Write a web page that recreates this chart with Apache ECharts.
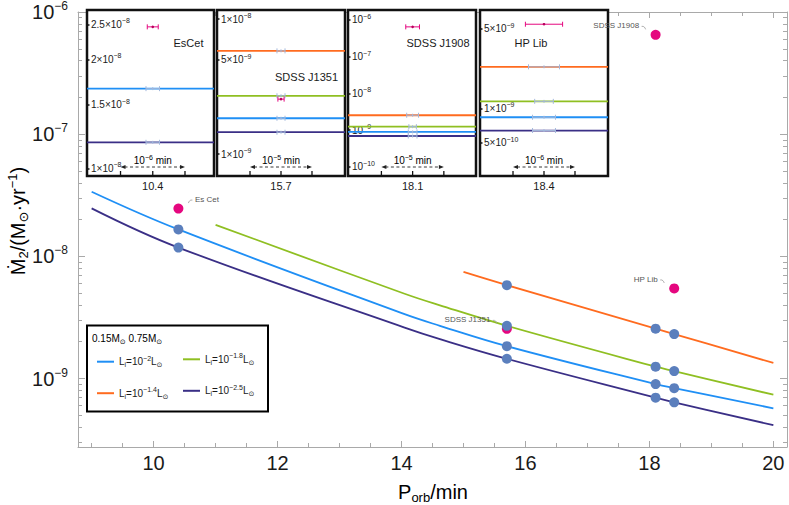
<!DOCTYPE html>
<html><head><meta charset="utf-8">
<script src="https://cdn.jsdelivr.net/npm/echarts@6/dist/echarts.min.js"></script>
<style>html,body{margin:0;padding:0;background:#fff}#c{width:789px;height:505px}</style>
</head><body><div id="c"></div>
<script>
// ---------------- data ----------------
const periodsBlue   = [9.0, 10.4, 14.05, 14.62, 15.7, 18.1, 18.4, 20.0];
const mdotBlue      = [3.38e-8, 1.66e-8, 3.36e-9, 2.70e-9, 1.84e-9, 9.0e-10, 8.34e-10, 5.70e-10];
const periodsOrange = [15.0, 15.7, 18.1, 18.4, 20.0];
const mdotOrange    = [7.45e-9, 5.81e-9, 2.56e-9, 2.31e-9, 1.34e-9];
const periodsGreen  = [11.0, 14.05, 14.62, 15.7, 18.1, 18.4, 20.0];
const mdotGreen     = [1.81e-8, 4.94e-9, 3.97e-9, 2.70e-9, 1.25e-9, 1.15e-9, 7.37e-10];
const periodsPurple = [9.0, 10.4, 14.05, 14.62, 15.7, 18.1, 18.4, 20.0];
const mdotPurple    = [2.47e-8, 1.18e-8, 2.61e-9, 2.10e-9, 1.45e-9, 6.97e-10, 6.38e-10, 4.15e-10];
const lumExponents  = ['−2', '−1.4', '−1.8', '−2.5'];

const obsNames   = ['Es Cet', 'SDSS J1351', 'SDSS J1908', 'HP Lib'];
const obsPeriods = [10.4, 15.7, 18.1, 18.4];
const obsMdot    = [2.46e-8, 2.55e-9, 6.5e-7, 5.46e-9];

const insetNames    = ['EsCet', 'SDSS J1351', 'SDSS J1908', 'HP Lib'];
const insetScaleExp = ['−6', '−5', '−5', '−6'];
const insetXTicks   = [-1, 0, 1];
const insetYTicks   = [[1e-8, 1.5e-8, 2e-8, 2.5e-8], [1e-9, 5e-9, 1e-8], [1e-10, 1e-9, 1e-8, 1e-7, 1e-6], [5e-10, 1e-9, 5e-9]];
const insetYTickLabels = [['1×10^−8', '1.5×10^−8', '2×10^−8', '2.5×10^−8'], ['1×10^−9', '5×10^−9', '1×10^−8'],
                          ['10^−10', '10^−9', '10^−8', '10^−7', '10^−6'], ['5×10^−10', '1×10^−9', '5×10^−9']];
// period error half-widths in inset units, model order: blue, orange, green, purple
const insetModelErr = [[0.21, 0, 0, 0.21], [0.13, 0.13, 0.13, 0.13], [0.14, 0.19, 0.12, 0.14], [0.37, 0.5, 0.3, 0.37]];
const insetObsErr   = [0.17, 0.10, 0.22, 0.6];
const xMajorTicks = [10, 12, 14, 16, 18, 20];
const yMajorExps  = [-9, -8, -7, -6];

// ---------------- layout / style ----------------
const FONT = '"Liberation Sans", Arial, "DejaVu Sans", sans-serif';
const TXT = '#1a1a1a', FRAME = '#a9a9a9', PINK = '#e5077f', DOT = '#5b7fbd', ERRC = '#a3b8dc';
const modelColors = ['#1f8ff5', '#ff6b1f', '#8fbf22', '#3a2f86'];
const modelNames = ['Li2', 'Li14', 'Li18', 'Li25'];
const models = [[periodsBlue, mdotBlue], [periodsOrange, mdotOrange], [periodsGreen, mdotGreen], [periodsPurple, mdotPurple]];
const X_MIN = 8.78, X_MAX = 20.22, Y_MIN = Math.log10(2.75e-10), Y_MAX = -6;
const insetLeft = [87, 217, 348, 480], insetWidth = [127, 128, 128, 128];
const insetXMin = [-2.04, -2.065, -2.07, -2.065], insetXMax = [1.90, 2.065, 2.03, 2.065];
const insetYMin = [-8.0213, -9.163, -10.245, -9.594], insetYMax = [-7.5625, -7.933, -5.728, -8.138];
const insetTitlePos = [[101.5, 33], [89.5, 67], [90, 33], [51, 33]];
const annoSide = [1, -1, -1, -1];

const lg = Math.log10;
function valueAt(per, md, p) { const i = per.findIndex(q => Math.abs(q - p) < 1e-9); return i >= 0 ? md[i] : null; }

const mainRich = {
  b: {fontSize: 20, fontFamily: FONT, color: TXT, lineHeight: 24},
  s: {fontSize: 12, fontFamily: FONT, color: TXT, lineHeight: 24, padding: [0, 0, 12, 0]}
};
const insetRich = {
  ib: {fontSize: 10, fontFamily: FONT, color: TXT, lineHeight: 12},
  is: {fontSize: 7, fontFamily: FONT, color: TXT, lineHeight: 12, padding: [0, 0, 7, 0]}
};
const legRich = {
  lb: {fontSize: 10, fontFamily: FONT, color: TXT, lineHeight: 16},
  lsub: {fontSize: 7, fontFamily: FONT, color: TXT, lineHeight: 16, padding: [6, 0, 0, 0]},
  lsup: {fontSize: 7, fontFamily: FONT, color: TXT, lineHeight: 16, padding: [0, 0, 7, 0]}
};
const titleRich = {
  tb: {fontSize: 20, fontFamily: FONT, color: TXT, lineHeight: 24},
  tsub: {fontSize: 13, fontFamily: FONT, color: TXT, lineHeight: 24, padding: [10, 0, 0, 0]},
  tsup: {fontSize: 13, fontFamily: FONT, color: TXT, lineHeight: 24, padding: [0, 0, 12, 0]}
};
function insetLabelRich(s) {
  const parts = s.split('^');
  return '{ib|' + parts[0] + '}' + (parts[1] ? '{is|' + parts[1] + '}' : '');
}

// tick positions
const xMinorTicks = [];
for (let v = 9; v <= 20.0001; v += 0.5) if (!xMajorTicks.includes(v)) xMinorTicks.push(v);
const yMinorTicks = [];
for (let n = -10; n <= -7; n++) for (let k = 2; k <= 9; k++) { const l = n + lg(k); if (l > Y_MIN && l < Y_MAX) yMinorTicks.push(l); }

function frameAxis(type, pos, ticks, len, showLine, labels) {
  const ax = {
    type: 'value', gridIndex: 0, position: pos,
    min: type === 'x' ? X_MIN : Y_MIN, max: type === 'x' ? X_MAX : Y_MAX,
    splitLine: {show: false},
    axisLine: {show: showLine, onZero: false, lineStyle: {color: FRAME, width: 1}},
    axisTick: {show: true, inside: true, length: len, customValues: ticks, lineStyle: {color: FRAME, width: 1}},
    axisLabel: {show: false}
  };
  if (labels) ax.axisLabel = labels;
  return ax;
}

const xAxes = [
  frameAxis('x', 'bottom', xMajorTicks, 6, true, {show: true, customValues: xMajorTicks, margin: 6, fontSize: 20, fontFamily: FONT, color: TXT, formatter: v => String(v)}),
  frameAxis('x', 'bottom', xMinorTicks, 4, false),
  frameAxis('x', 'top', xMajorTicks, 6, true),
  frameAxis('x', 'top', xMinorTicks, 4, false)
];
const yAxes = [
  frameAxis('y', 'left', yMajorExps, 7, true, {show: true, customValues: yMajorExps, margin: 10, rich: mainRich,
    formatter: v => '{b|10}{s|−' + Math.abs(Math.round(v)) + '}'}),
  frameAxis('y', 'left', yMinorTicks, 4, false),
  frameAxis('y', 'right', yMajorExps, 7, true),
  frameAxis('y', 'right', yMinorTicks, 4, false)
];

const grids = [{left: 78, top: 10, width: 709, height: 437, show: false}];
const series = [];

// main curves
models.forEach((m, j) => {
  series.push({
    name: modelNames[j], type: 'line', xAxisIndex: 0, yAxisIndex: 0, smooth: 0.4, showSymbol: false, silent: true, z: 2,
    data: m[0].map((p, i) => [p, lg(m[1][i])]),
    lineStyle: {color: modelColors[j], width: 1.8}, itemStyle: {color: modelColors[j]}
  });
});
// observations (pink)
series.push({
  type: 'scatter', xAxisIndex: 0, yAxisIndex: 0, symbolSize: 10, z: 3, silent: true,
  itemStyle: {color: PINK, opacity: 1},
  data: obsPeriods.map((p, i) => [p, lg(obsMdot[i])])
});
// model values at observed periods (blue-grey dots)
const dotData = [];
obsPeriods.forEach(p => models.forEach(m => { const v = valueAt(m[0], m[1], p); if (v !== null) dotData.push([p, lg(v)]); }));
series.push({
  type: 'scatter', xAxisIndex: 0, yAxisIndex: 0, symbolSize: 10, z: 4, silent: true,
  itemStyle: {color: DOT, opacity: 1}, data: dotData
});
// annotations with leader lines
series.push({
  type: 'custom', xAxisIndex: 0, yAxisIndex: 0, z: 6, silent: true,
  data: obsPeriods.map((p, i) => [p, lg(obsMdot[i]), i]),
  renderItem: (params, api) => {
    const p = api.coord([api.value(0), api.value(1)]);
    const i = api.value(2), s = annoSide[i];
    const tx = p[0] + s * 16.5, ty = p[1] - 9;
    return {type: 'group', children: [
      {type: 'text', x: tx, y: ty, style: {text: obsNames[i], fill: '#555', fontSize: 8, fontFamily: FONT, align: s > 0 ? 'left' : 'right', verticalAlign: 'middle'}},
      {type: 'bezierCurve', shape: {x1: tx - s * 2.5, y1: ty + 0.5, x2: p[0] + s * 10, y2: p[1] - 5.5, cpx1: tx - s * 5, cpy1: ty, cpx2: p[0] + s * 10.5, cpy2: p[1] - 7},
        style: {stroke: '#999', lineWidth: 0.8, fill: 'none'}}
    ]};
  }
});

// insets
for (let k = 0; k < 4; k++) {
  const gi = k + 1, ai = 4 + k;
  grids.push({left: insetLeft[k], top: 10, width: insetWidth[k], height: 166, show: true, z: 3,
    backgroundColor: '#fff', borderColor: '#111', borderWidth: 2.5});
  const tickLogs = insetYTicks[k].map(lg);
  xAxes.push({
    type: 'value', gridIndex: gi, min: insetXMin[k], max: insetXMax[k], z: 4, position: 'bottom',
    splitLine: {show: false}, axisLine: {show: false, onZero: false}, axisTick: {show: false},
    axisLabel: {show: true, customValues: [0], margin: 4, fontSize: 11, fontFamily: FONT, color: TXT, formatter: () => obsPeriods[k].toFixed(1)}
  });
  yAxes.push({
    type: 'value', gridIndex: gi, min: insetYMin[k], max: insetYMax[k], z: 4, position: 'left',
    splitLine: {show: false}, axisLine: {show: false, onZero: false},
    axisTick: {show: true, inside: true, length: 2.5, customValues: tickLogs, lineStyle: {color: '#111', width: 1.5}},
    axisLabel: {show: true, inside: true, margin: 4, customValues: tickLogs, rich: insetRich,
      formatter: v => { const i = tickLogs.findIndex(t => Math.abs(t - v) < 1e-6); return i >= 0 ? insetLabelRich(insetYTickLabels[k][i]) : ''; }}
  });
  const errData = [];
  models.forEach((m, j) => {
    const v = valueAt(m[0], m[1], obsPeriods[k]);
    if (v === null) return;
    series.push({
      type: 'line', xAxisIndex: ai, yAxisIndex: ai, showSymbol: false, silent: true, z: 5,
      data: [[insetXMin[k], lg(v)], [insetXMax[k], lg(v)]],
      lineStyle: {color: modelColors[j], width: 1.8}
    });
    errData.push([0, lg(v), insetModelErr[k][j], 0]);
  });
  errData.push([0, lg(obsMdot[k]), insetObsErr[k], 1]);
  series.push({
    type: 'custom', xAxisIndex: ai, yAxisIndex: ai, z: 6, silent: true, data: errData,
    renderItem: (params, api) => {
      const y = api.value(1), hw = api.value(2), kind = api.value(3);
      const a = api.coord([-hw, y]), b = api.coord([hw, y]), c = api.coord([0, y]);
      const col = kind === 1 ? PINK : ERRC, h = 2.5;
      const ch = [
        {type: 'line', shape: {x1: a[0], y1: a[1], x2: b[0], y2: b[1]}, style: {stroke: col, lineWidth: 1}},
        {type: 'line', shape: {x1: a[0], y1: a[1] - h, x2: a[0], y2: a[1] + h}, style: {stroke: col, lineWidth: 1}},
        {type: 'line', shape: {x1: b[0], y1: b[1] - h, x2: b[0], y2: b[1] + h}, style: {stroke: col, lineWidth: 1}}
      ];
      if (kind === 1) ch.push({type: 'circle', shape: {cx: c[0], cy: c[1], r: 1.3}, style: {fill: '#b8005c'}});
      else ch.push({type: 'line', shape: {x1: c[0], y1: c[1] - 1.5, x2: c[0], y2: c[1] + 1.5}, style: {stroke: col, lineWidth: 1}});
      return {type: 'group', children: ch};
    }
  });
  series.push({
    type: 'custom', xAxisIndex: ai, yAxisIndex: ai, z: 6, silent: true, data: [[0, insetYMin[k]]],
    renderItem: (params, api) => {
      const cs = params.coordSys;
      const ybot = cs.y + cs.height, yb = ybot - 9;
      const xs = insetXTicks.map(t => api.coord([t, insetYMin[k]])[0]);
      const xl = xs[0], xr = xs[xs.length - 1];
      const ticks = xs.map(x => ({type: 'line', shape: {x1: x, y1: ybot, x2: x, y2: ybot - 5}, style: {stroke: '#111', lineWidth: 1.3}}));
      return {type: 'group', children: ticks.concat([
        {type: 'line', shape: {x1: xl + 4, y1: yb, x2: xr - 4, y2: yb}, style: {stroke: '#222', lineWidth: 0.9, lineDash: [3, 2.5]}},
        {type: 'polygon', shape: {points: [[xl, yb], [xl + 5, yb - 2], [xl + 5, yb + 2]]}, style: {fill: '#222'}},
        {type: 'polygon', shape: {points: [[xr, yb], [xr - 5, yb - 2], [xr - 5, yb + 2]]}, style: {fill: '#222'}},
        {type: 'text', x: (xl + xr) / 2, y: yb - 0.5, style: {text: '{ib|10}{is|' + insetScaleExp[k] + '}{ib| min}', rich: insetRich, align: 'center', verticalAlign: 'bottom'}},
        {type: 'text', x: cs.x + insetTitlePos[k][0], y: cs.y + insetTitlePos[k][1],
          style: {text: insetNames[k], fontSize: 11, fontFamily: FONT, fill: TXT, align: 'center', verticalAlign: 'middle'}}
      ])};
    }
  });
}

function legendLabel(name) {
  const j = modelNames.indexOf(name);
  return '{lb|L}{lsub|i}{lb|=10}{lsup|' + lumExponents[j] + '}{lb|L}{lsub|⊙}';
}
const legendBase = {orient: 'vertical', itemWidth: 17, itemHeight: 2, icon: 'rect', itemGap: 15.5, padding: 0,
  selectedMode: false, formatter: legendLabel, textStyle: {rich: legRich, fontSize: 10, lineHeight: 16}};

const option = {
  animation: false,
  backgroundColor: '#fff',
  grid: grids, xAxis: xAxes, yAxis: yAxes, series: series,
  legend: [
    Object.assign({}, legendBase, {data: ['Li2', 'Li14'], left: 97, top: 353.7}),
    Object.assign({}, legendBase, {data: ['Li18', 'Li25'], left: 183, top: 351.3})
  ],
  graphic: {elements: [
    {type: 'rect', shape: {x: 87, y: 325.5, width: 181, height: 86}, style: {fill: '#fff', stroke: '#000', lineWidth: 2}},
    {type: 'text', x: 92, y: 338, style: {text: '{lb|0.15M}{lsub|⊙}{lb| 0.75M}{lsub|⊙}', rich: legRich, verticalAlign: 'middle'}},
    {type: 'text', x: 18, y: 221, rotation: Math.PI / 2,
      style: {text: '{tb|Ṁ}{tsub|2}{tb|/(M}{tsub|⊙}{tb|·yr}{tsup|−1}{tb|)}', rich: titleRich, align: 'center', verticalAlign: 'middle'}},
    {type: 'text', x: 433, y: 492,
      style: {text: '{tb|P}{tsub|orb}{tb|/min}', rich: titleRich, align: 'center', verticalAlign: 'middle'}}
  ]}
};
const chart = echarts.init(document.getElementById('c'), null, {renderer: 'svg'});
chart.setOption(option);
</script>
</body></html>
